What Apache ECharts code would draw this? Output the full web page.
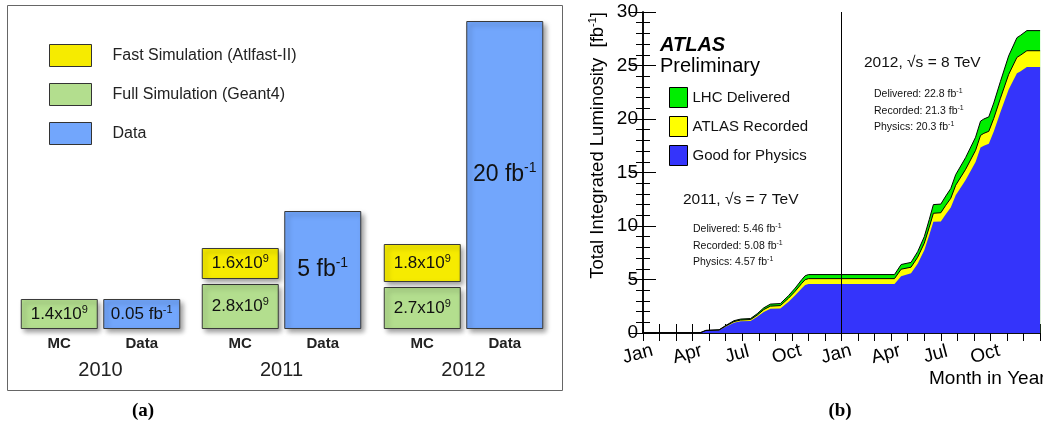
<!DOCTYPE html>
<html>
<head>
<meta charset="utf-8">
<title>ATLAS samples and integrated luminosity</title>
<script src="https://cdn.jsdelivr.net/npm/echarts@6.0.0/dist/echarts.min.js"></script>
<style>
html, body { margin: 0; padding: 0; background: #fff; }
#main { width: 1043px; height: 432px; }
</style>
</head>
<body>
<div id="main"></div>
<script>
/* (a) MC and data samples per year */
var YEARS = ['2010', '2011', '2012'];
var SAMPLE_CATS = ['MC', 'Data'];
// numbers written in the boxes
var fullSimEvents = ['1.4', '2.8', '2.7'];   // x10^9
var fastSimEvents = [null, '1.6', '1.8'];    // x10^9, no fast sim in 2010
var dataLumiText = ['0.05', '5', '20'];      // fb^-1
// box heights as drawn (schematic, not to scale)
var fullSimHeight = [30, 45, 42];
var fastSimHeight = [0, 31, 38];
var dataHeight = [30, 118, 308];

/* (b) cumulative luminosity, x = months since 1 Jan 2011 */
var MONTH_NAMES = ['Jan', 'Apr', 'Jul', 'Oct'];
var monthPos = [0, 3.0, 3.5, 3.8, 4.6, 5.0, 5.5, 5.9, 6.5, 6.9, 7.3, 7.7, 8.3, 8.8, 9.2, 9.6, 9.8, 10.0,
	15.2, 15.6, 16.2, 16.6, 17.0, 17.3, 17.55, 18.0, 18.3, 18.6, 18.9, 19.5, 20.1, 20.4, 20.6, 20.9,
	21.2, 21.6, 22.1, 22.6, 22.8, 23.2, 24.0];
var lumiDelivered = [0, 0, 0.05, 0.25, 0.3, 0.7, 1.15, 1.3, 1.35, 1.8, 2.35, 2.7, 2.75, 3.5, 4.2, 5.0, 5.35, 5.46,
	5.46, 6.4, 6.6, 7.6, 9.0, 10.6, 12.0, 12.05, 12.8, 13.5, 14.8, 16.4, 18.3, 19.8, 20.0, 20.2,
	21.5, 23.5, 25.9, 27.6, 27.8, 28.26, 28.26];
var lumiRecorded = [0, 0, 0.05, 0.23, 0.28, 0.65, 1.07, 1.21, 1.26, 1.67, 2.19, 2.51, 2.56, 3.26, 3.91, 4.65, 4.98, 5.08,
	5.08, 5.96, 6.15, 7.08, 8.39, 9.88, 11.19, 11.24, 11.94, 12.59, 13.81, 15.3, 17.07, 18.47, 18.66, 18.85,
	20.06, 21.93, 24.17, 25.76, 25.95, 26.38, 26.38];
var lumiPhysics = [0, 0, 0.04, 0.21, 0.25, 0.59, 0.96, 1.09, 1.13, 1.51, 1.97, 2.26, 2.30, 2.93, 3.52, 4.19, 4.48, 4.57,
	4.57, 5.3, 5.59, 6.48, 7.73, 9.15, 10.39, 10.43, 11.1, 11.72, 12.88, 14.3, 15.99, 17.33, 17.5, 17.68,
	18.84, 20.62, 22.76, 24.27, 24.45, 24.87, 24.87];

var FONT = '"Liberation Sans", Arial, sans-serif';
var COL_FAST = '#f6eb00', COL_FULL = '#b3de8e', COL_DATA = '#72a6fc';
var COL_DEL = '#00ee00', COL_REC = '#ffff00', COL_PHYS = '#3434fb';
var STACK_GAP = 5;

// 上标文字
function sup(main, exp) {
	return '{m|' + main + '}{s|' + exp + '}';
}
function supRich(size, color) {
	return {
		m: { fontSize: size, color: color, fontFamily: FONT },
		s: { fontSize: Math.round(size * 0.62), color: color, fontFamily: FONT, padding: [0, 0, Math.round(size * 0.55), 0] }
	};
}
function boxStyle(c) {
	return {
		color: c, borderColor: '#3a3a3a', borderWidth: 1,
		shadowBlur: 5, shadowColor: 'rgba(0,0,0,0.4)', shadowOffsetX: 3, shadowOffsetY: 3
	};
}
function boxLabel(text, size) {
	return { show: true, position: 'inside', formatter: text, rich: supRich(size, '#111') };
}
function pairs(ys) {
	return monthPos.map(function (x, i) { return [x, ys[i]]; });
}

var grids = [], xAxes = [], yAxes = [], series = [];
var gridLeft = [18, 199, 381];

YEARS.forEach(function (year, i) {
	grids.push({ left: gridLeft[i], top: 21, width: 165, height: 308 });
	xAxes.push({
		gridIndex: i, type: 'category', data: SAMPLE_CATS,
		axisLine: { show: false }, axisTick: { show: false },
		axisLabel: { fontSize: 15, fontWeight: 'bold', color: '#222', margin: 7, fontFamily: FONT },
		name: year, nameLocation: 'middle', nameGap: 31,
		nameTextStyle: { fontSize: 20, color: '#222', fontFamily: FONT }
	});
	yAxes.push({ gridIndex: i, type: 'value', min: 0, max: 308, show: false });

	var stack = 'year' + i;
	series.push({
		name: 'Full Simulation (Geant4)', type: 'bar', xAxisIndex: i, yAxisIndex: i, stack: stack, barWidth: 77,
		itemStyle: boxStyle(COL_FULL),
		data: [{ value: fullSimHeight[i], label: boxLabel(sup(fullSimEvents[i] + 'x10', '9'), 17) }, '-']
	});
	series.push({
		type: 'bar', xAxisIndex: i, yAxisIndex: i, stack: stack, barWidth: 77, silent: true,
		itemStyle: { color: 'transparent' },
		data: [fastSimEvents[i] ? STACK_GAP : '-', '-']
	});
	series.push({
		name: 'Fast Simulation (Atlfast-II)', type: 'bar', xAxisIndex: i, yAxisIndex: i, stack: stack, barWidth: 77,
		itemStyle: boxStyle(COL_FAST),
		data: [fastSimEvents[i] ? { value: fastSimHeight[i], label: boxLabel(sup(fastSimEvents[i] + 'x10', '9'), 17) } : '-', '-']
	});
	series.push({
		name: 'Data', type: 'bar', xAxisIndex: i, yAxisIndex: i, stack: stack, barWidth: 77,
		itemStyle: boxStyle(COL_DATA),
		data: ['-', { value: dataHeight[i], label: boxLabel(sup(dataLumiText[i] + ' fb', '-1'), dataHeight[i] > 100 ? 23 : 17) }]
	});
});

// (b) 积分亮度
grids.push({ left: 643, top: 12, width: 402, height: 321 });
var monthAxisBase = {
	gridIndex: 3, type: 'value', min: 0, max: 24, interval: 1,
	splitLine: { show: false },
	axisLine: { lineStyle: { color: '#000', width: 1.5 } }
};
xAxes.push(Object.assign({}, monthAxisBase, {
	position: 'bottom',
	axisTick: { inside: true, length: 9, lineStyle: { color: '#000' } },
	axisLabel: {
		fontSize: 19, color: '#000', fontFamily: FONT, rotate: 15, margin: 10,
		align: 'center', verticalAlign: 'top', padding: [0, 16, 0, 0],
		formatter: function (v) {
			if (v % 3 !== 0 || v >= 24) return '';
			return MONTH_NAMES[(v % 12) / 3];
		}
	}
}));
xAxes.push(Object.assign({}, monthAxisBase, {
	position: 'top',
	axisTick: { inside: true, length: 8, lineStyle: { color: '#000' } },
	axisLabel: { show: false }
}));
var lumiAxisBase = {
	gridIndex: 3, type: 'value', min: 0, max: 30, interval: 5,
	splitLine: { show: false },
	axisLine: { show: true, lineStyle: { color: '#000', width: 1.5 } },
	axisTick: { show: true, inside: true, length: 13, lineStyle: { color: '#000' } },
	minorTick: { show: true, splitNumber: 5, length: 7, lineStyle: { color: '#000' } }
};
yAxes.push(Object.assign({}, lumiAxisBase, {
	position: 'left',
	axisLabel: { fontSize: 19, color: '#000', margin: 5, fontFamily: FONT }
}));
yAxes.push(Object.assign({}, lumiAxisBase, {
	position: 'right',
	axisLabel: { show: false }
}));

[['LHC Delivered', lumiDelivered, COL_DEL, 1],
 ['ATLAS Recorded', lumiRecorded, COL_REC, 1],
 ['Good for Physics', lumiPhysics, COL_PHYS, 0]].forEach(function (s) {
	var item = {
		name: s[0], type: 'line', xAxisIndex: 3, yAxisIndex: 3,
		data: pairs(s[1]), color: s[2], symbol: 'none',
		lineStyle: { color: '#000', width: s[3], opacity: s[3] ? 1 : 0 },
		areaStyle: { color: s[2], opacity: 1 }
	};
	if (s[0] === 'Good for Physics') {
		item.markLine = {
			silent: true, symbol: 'none', label: { show: false },
			lineStyle: { color: '#000', width: 1, type: 'solid' },
			data: [{ xAxis: 12 }]
		};
	}
	series.push(item);
});

function txt(x, y, text, size, extra) {
	return {
		type: 'text', x: x, y: y, z: 50,
		style: Object.assign({
			text: text, fontSize: size, fontFamily: FONT, fill: '#111',
			align: 'left', verticalAlign: 'middle'
		}, extra || {})
	};
}
function statLine(x, y, label, val) {
	return txt(x, y, '{m|' + label + ': ' + val + ' fb}{s|-1}', 10.5, { rich: supRich(10.5, '#333') });
}

var graphics = [
	{ type: 'rect', shape: { x: 7.5, y: 5.5, width: 555, height: 385 }, style: { fill: 'none', stroke: '#666', lineWidth: 1 }, z: -10 },
	txt(143, 411, '(a)', 19, { align: 'center', fontFamily: '"Liberation Serif", serif', fontWeight: 'bold', fill: '#000' }),
	txt(840, 411, '(b)', 19, { align: 'center', fontFamily: '"Liberation Serif", serif', fontWeight: 'bold', fill: '#000' }),
	txt(660, 45, 'ATLAS', 20, { fontWeight: 'bold', fontStyle: 'italic', fill: '#000' }),
	txt(660, 66, 'Preliminary', 20, { fill: '#000' }),
	txt(864, 63, '2012, √s = 8 TeV', 15.5),
	txt(683, 200, '2011, √s = 7 TeV', 15.5),
	statLine(874, 94, 'Delivered', '22.8'),
	statLine(874, 111, 'Recorded', '21.3'),
	statLine(874, 127, 'Physics', '20.3'),
	statLine(693, 229, 'Delivered', '5.46'),
	statLine(693, 246, 'Recorded', '5.08'),
	statLine(693, 262, 'Physics', '4.57'),
	txt(929, 379, 'Month in Year', 19, { fill: '#000' }),
	{
		type: 'text', x: 598, y: 12, rotation: Math.PI / 2, z: 50,
		style: {
			text: '{m|Total Integrated Luminosity  [fb}{s|-1}{m|]}',
			rich: supRich(18.5, '#000'),
			align: 'right', verticalAlign: 'middle'
		}
	}
];

var chart = echarts.init(document.getElementById('main'));
chart.setOption({
	animation: false,
	textStyle: { fontFamily: FONT },
	grid: grids,
	xAxis: xAxes,
	yAxis: yAxes,
	legend: [{
		data: ['Fast Simulation (Atlfast-II)', 'Full Simulation (Geant4)', 'Data'],
		orient: 'vertical', left: 49, top: 44, padding: 0, itemWidth: 42, itemHeight: 22, itemGap: 16,
		icon: 'rect', selectedMode: false,
		itemStyle: { borderColor: '#333', borderWidth: 1, shadowBlur: 0, shadowOffsetX: 0, shadowOffsetY: 0 },
		textStyle: { fontSize: 16, color: '#222', padding: [0, 0, 0, 16], fontFamily: FONT }
	}, {
		data: ['LHC Delivered', 'ATLAS Recorded', 'Good for Physics'],
		orient: 'vertical', left: 669, top: 87, padding: 0, itemWidth: 18, itemHeight: 20, itemGap: 8,
		icon: 'rect', selectedMode: false,
		itemStyle: { borderColor: '#000', borderWidth: 1 },
		textStyle: { fontSize: 15, color: '#111', fontFamily: FONT }
	}],
	series: series,
	graphic: graphics
});
</script>
</body>
</html>
